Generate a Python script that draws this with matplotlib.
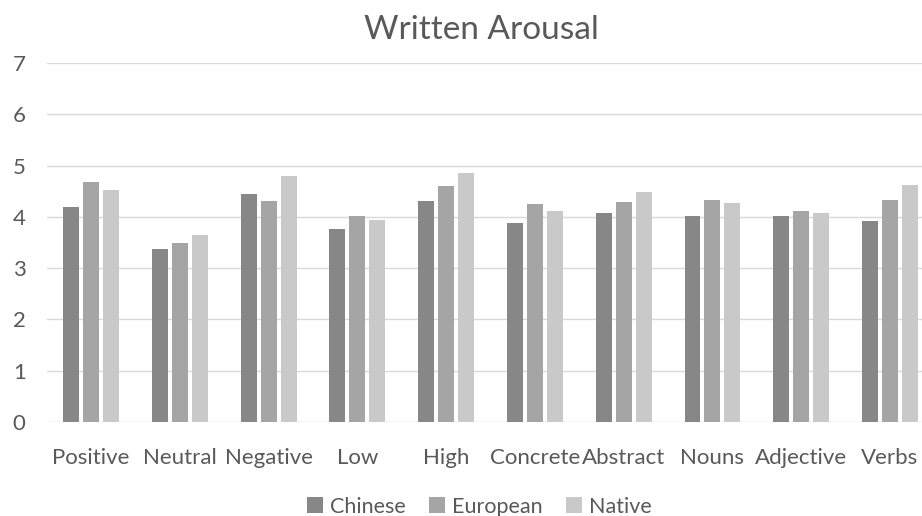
import numpy as np
import matplotlib.pyplot as plt

# Data
categories = ['Positive', 'Neutral', 'Negative', 'Low', 'High',
              'Concrete', 'Abstract', 'Nouns', 'Adjective', 'Verbs']
chinese = [4.19, 3.38, 4.44, 3.77, 4.31, 3.89, 4.08, 4.02, 4.02, 3.91]
european = [4.68, 3.50, 4.31, 4.01, 4.60, 4.25, 4.29, 4.33, 4.12, 4.33]
native = [4.53, 3.65, 4.79, 3.93, 4.85, 4.12, 4.48, 4.27, 4.08, 4.63]
series_names = ['Chinese', 'European', 'Native']
colors = ['#878787', '#a5a5a5', '#c9c9c9']

plt.rcParams['font.family'] = ['Lato', 'DejaVu Sans']
text_color = '#595959'

fig = plt.figure(figsize=(9.22, 5.16), dpi=100)
ax = fig.add_axes([0.0505, 0.182, 0.963, 0.696])

x = np.arange(len(categories))
width = 0.18
step = 0.225
for i, (vals, name, c) in enumerate(zip([chinese, european, native], series_names, colors)):
    ax.bar(x + (i - 1) * step, vals, width, color=c, label=name, zorder=3)

ax.set_xlim(-0.5, len(categories) - 0.5)
ax.set_ylim(0, 7)
ax.set_yticks(range(0, 8))
ax.set_xticks(x)
ax.set_xticklabels(categories)
ax.tick_params(axis='both', length=0, colors=text_color, labelsize=16)
ax.tick_params(axis='x', pad=19)
ax.tick_params(axis='y', pad=15)
ax.grid(axis='y', color='#d9d9d9', linewidth=1, zorder=0)
for s in ax.spines.values():
    s.set_visible(False)

fig.suptitle('Written Arousal', x=0.522, y=0.97, fontsize=24, color=text_color)

fig.legend(loc='center', bbox_to_anchor=(0.52, 0.018), ncol=3, frameon=False,
           fontsize=15.5, labelcolor=text_color, handlelength=0.75, handleheight=0.75,
           handletextpad=0.3, columnspacing=1.1)

plt.savefig('out.png', dpi=100)
